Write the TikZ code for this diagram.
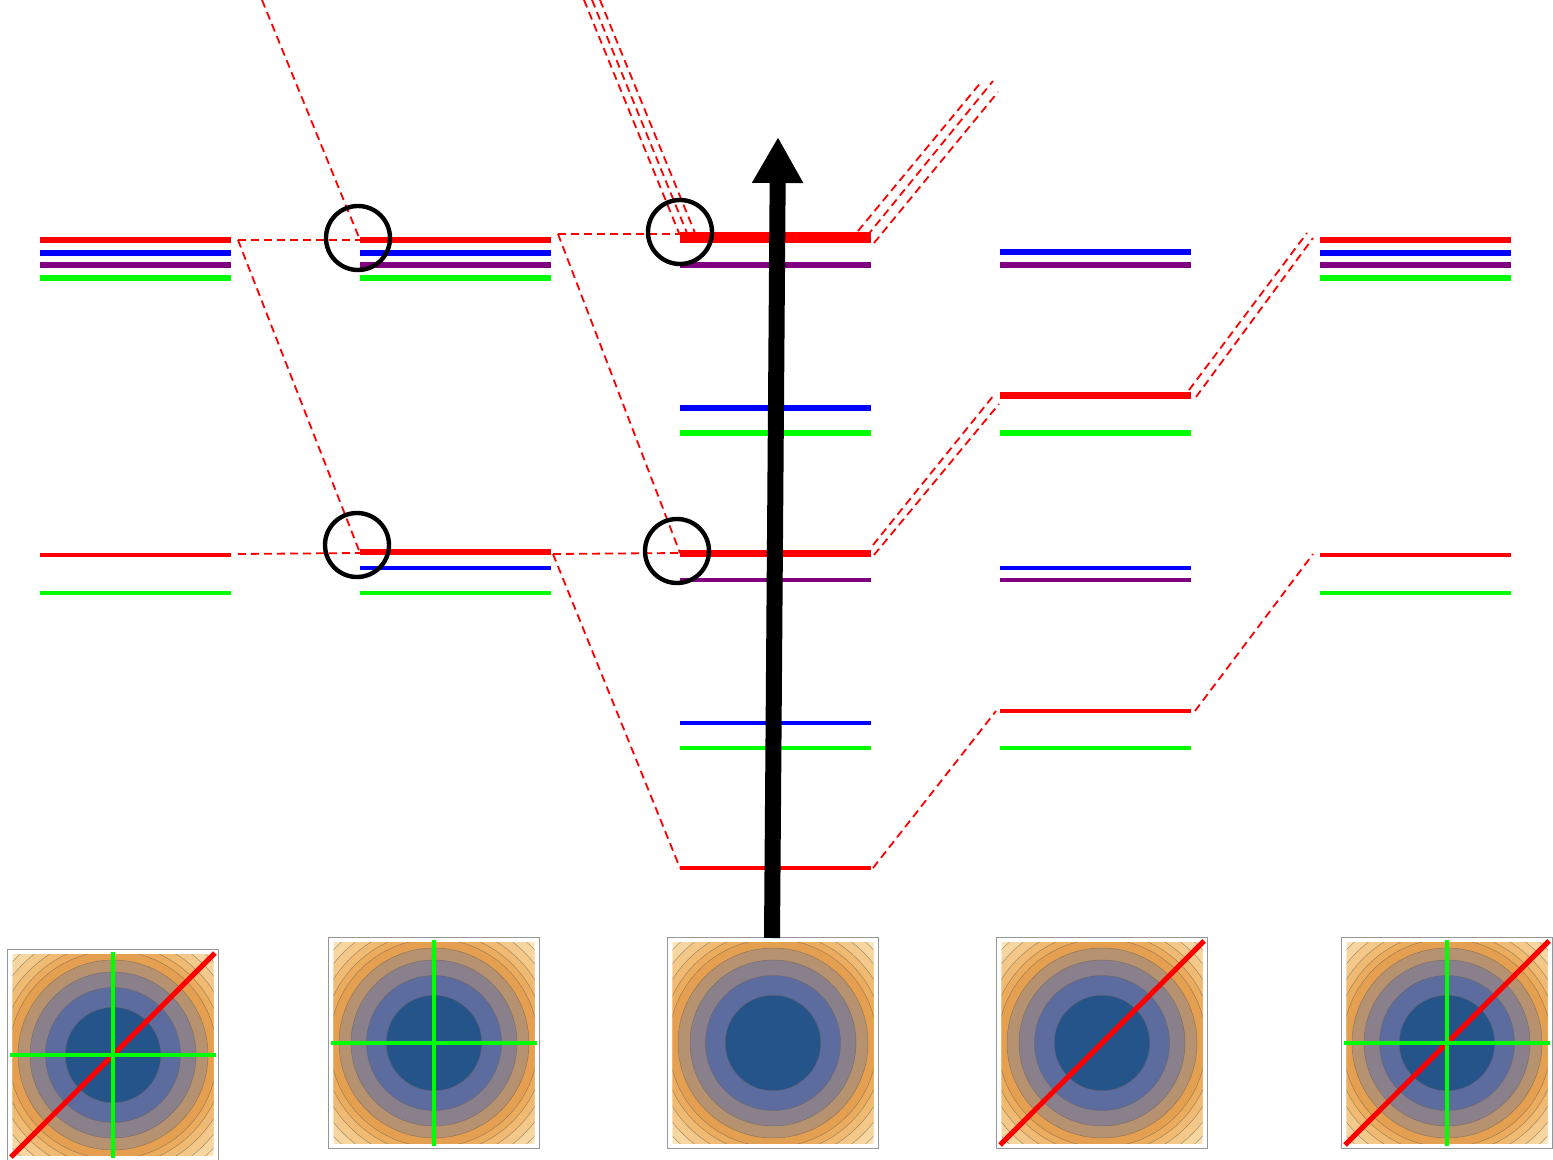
\documentclass[tikz,border=0pt]{standalone}
\usetikzlibrary{arrows.meta}

\definecolor{lvred}{RGB}{255,0,0}
\definecolor{lvblue}{RGB}{0,0,255}
\definecolor{lvpurple}{RGB}{128,0,128}
\definecolor{lvgreen}{RGB}{0,255,0}
\definecolor{framegray}{RGB}{150,150,150}
\definecolor{ringline}{RGB}{110,95,80}
\definecolor{rA}{RGB}{36,84,138}
\definecolor{rB}{RGB}{92,108,158}
\definecolor{rC}{RGB}{138,128,140}
\definecolor{rD}{RGB}{182,146,112}
\definecolor{rE}{RGB}{228,160,80}
\definecolor{rF}{RGB}{236,172,94}
\definecolor{rG}{RGB}{240,186,114}
\definecolor{rH}{RGB}{244,200,136}
\definecolor{rI}{RGB}{247,214,160}
\definecolor{rJ}{RGB}{250,228,184}

\tikzset{
  pics/contourplot/.style={code={
    \draw[framegray, line width=0.5pt, fill=white] (-105.5,-105.5) rectangle (105.5,105.5);
    \begin{scope}
      \clip (-100.5,-100.5) rectangle (100.5,100.5);
      \foreach \rr/\cc in {146/rJ,137/rI,128/rH,119/rG,111/rF,104/rE,95/rD,83/rC,67.5/rB,47.7/rA}{
        \fill[\cc, draw=ringline, draw opacity=0.6, line width=0.25pt] (0,0) circle (\rr);
      }
    \end{scope}
  }}
}

\begin{document}
\begin{tikzpicture}[x=0.5pt,y=-0.5pt,
  level/.style={line width=3pt},
  thinlevel/.style={line width=1.6pt},
  corr/.style={lvred, dash pattern=on 4pt off 2.5pt, line width=0.9pt},
  marker/.style={black, line width=2.2pt},
  diagline/.style={lvred, line width=2.5pt},
  crossline/.style={lvgreen, line width=2.2pt}
]
\useasboundingbox (0,0) rectangle (1553,1160);

% ---- correlation lines (dashed) ----
\coordinate (L1up) at (238,240);
\coordinate (L1lo) at (238,554);
\coordinate (M2up) at (360,240);
\coordinate (M2lo) at (360,553);
\coordinate (T1) at (262,0);
\draw[corr] (L1up) -- (M2up);
\draw[corr] (L1up) -- (M2lo);
\draw[corr] (L1lo) -- (M2lo);
\draw[corr] (T1) -- (M2up);

\coordinate (R2up) at (558,234);
\coordinate (R2lo) at (553,554);
\coordinate (M3up) at (680,234);
\coordinate (M3lo) at (680,553);
\coordinate (M3bot) at (680,868);
\draw[corr] (R2up) -- (M3up);
\draw[corr] (R2up) -- (M3lo);
\draw[corr] (R2lo) -- (M3lo);
\draw[corr] (R2lo) -- (M3bot);

\coordinate (T2a) at (584,0);  \coordinate (E2a) at (679,233);
\coordinate (T2b) at (592,0);  \coordinate (E2b) at (687,233);
\coordinate (T2c) at (600,0);  \coordinate (E2c) at (695,233);
\draw[corr] (T2a) -- (E2a);
\draw[corr] (T2b) -- (E2b);
\draw[corr] (T2c) -- (E2c);

\coordinate (R3a) at (858,231); \coordinate (U3a) at (982,81);
\coordinate (R3b) at (867,236); \coordinate (U3b) at (993,81);
\coordinate (R3c) at (874,243); \coordinate (U3c) at (998,92);
\draw[corr] (R3a) -- (U3a);
\draw[corr] (R3b) -- (U3b);
\draw[corr] (R3c) -- (U3c);

\coordinate (R3m1) at (873,545); \coordinate (M4a) at (994,395);
\coordinate (R3m2) at (874,555); \coordinate (M4b) at (999,404);
\draw[corr] (R3m1) -- (M4a);
\draw[corr] (R3m2) -- (M4b);
\coordinate (R3bot) at (873,868); \coordinate (M4bot) at (996,711);
\draw[corr] (R3bot) -- (M4bot);

\coordinate (R4a) at (1189,390); \coordinate (M5a) at (1307,233);
\coordinate (R4b) at (1196,397); \coordinate (M5b) at (1313,238);
\draw[corr] (R4a) -- (M5a);
\draw[corr] (R4b) -- (M5b);
\coordinate (R4bot) at (1195,711); \coordinate (M5lo) at (1313,554);
\draw[corr] (R4bot) -- (M5lo);

% ---- energy levels ----
% column 1
\draw[level, lvred]    (40,240) -- (231,240);
\draw[level, lvblue]   (40,253) -- (231,253);
\draw[level, lvpurple] (40,265) -- (231,265);
\draw[level, lvgreen]  (40,278) -- (231,278);
\draw[thinlevel, lvred]   (40,555) -- (231,555);
\draw[thinlevel, lvgreen] (40,593) -- (231,593);
% column 2
\draw[level, lvred]    (360,240) -- (551,240);
\draw[level, lvblue]   (360,253) -- (551,253);
\draw[level, lvpurple] (360,265) -- (551,265);
\draw[level, lvgreen]  (360,278) -- (551,278);
\draw[level, lvred]       (360,552) -- (551,552);
\draw[thinlevel, lvblue]  (360,568) -- (551,568);
\draw[thinlevel, lvgreen] (360,593) -- (551,593);
% column 3
\draw[lvred, line width=5.5pt] (680,238) -- (871,238);
\draw[level, lvpurple] (680,265) -- (871,265);
\draw[level, lvblue]   (680,408) -- (871,408);
\draw[level, lvgreen]  (680,433) -- (871,433);
\draw[lvred, line width=3.5pt] (680,553) -- (871,553);
\draw[thinlevel, lvpurple] (680,580) -- (871,580);
\draw[thinlevel, lvblue]   (680,723) -- (871,723);
\draw[thinlevel, lvgreen]  (680,748) -- (871,748);
\draw[thinlevel, lvred]    (680,868) -- (871,868);
% column 4
\draw[level, lvblue]   (1000,252) -- (1191,252);
\draw[level, lvpurple] (1000,265) -- (1191,265);
\draw[lvred, line width=3.5pt] (1000,396) -- (1191,396);
\draw[level, lvgreen]  (1000,433) -- (1191,433);
\draw[thinlevel, lvblue]   (1000,568) -- (1191,568);
\draw[thinlevel, lvpurple] (1000,580) -- (1191,580);
\draw[thinlevel, lvred]    (1000,711) -- (1191,711);
\draw[thinlevel, lvgreen]  (1000,748) -- (1191,748);
% column 5
\draw[level, lvred]    (1320,240) -- (1511,240);
\draw[level, lvblue]   (1320,253) -- (1511,253);
\draw[level, lvpurple] (1320,265) -- (1511,265);
\draw[level, lvgreen]  (1320,278) -- (1511,278);
\draw[thinlevel, lvred]   (1320,555) -- (1511,555);
\draw[thinlevel, lvgreen] (1320,593) -- (1511,593);

% ---- crossing markers ----
\draw[marker] (358,238) circle (32);
\draw[marker] (357,545) circle (32);
\draw[marker] (680,232) circle (32);
\draw[marker] (677,551) circle (32);

% ---- contour plots ----
\begin{scope}[shift={(113,1055)}]
  \pic {contourplot};
  \draw[diagline] (-102,102) -- (102,-102);
  \draw[crossline] (-103,0) -- (103,0) (0,-103) -- (0,103);
\end{scope}
\begin{scope}[shift={(434,1043)}]
  \pic {contourplot};
  \draw[crossline] (-103,0) -- (103,0) (0,-103) -- (0,103);
\end{scope}
\begin{scope}[shift={(773,1043)}]
  \pic {contourplot};
\end{scope}
\begin{scope}[shift={(1102,1043)}]
  \pic {contourplot};
  \draw[diagline] (-102,102) -- (102,-102);
\end{scope}
\begin{scope}[shift={(1447,1043)}]
  \pic {contourplot};
  \draw[diagline] (-102,102) -- (102,-102);
  \draw[crossline] (-103,0) -- (103,0) (0,-103) -- (0,103);
\end{scope}

% ---- parameter arrow ----
\coordinate (A0) at (772,938);
\coordinate (A1) at (778,137);
\draw[black, line width=8pt, -{Triangle[length=23pt,width=24pt]}] (A0) -- (A1);

\end{tikzpicture}
\end{document}
